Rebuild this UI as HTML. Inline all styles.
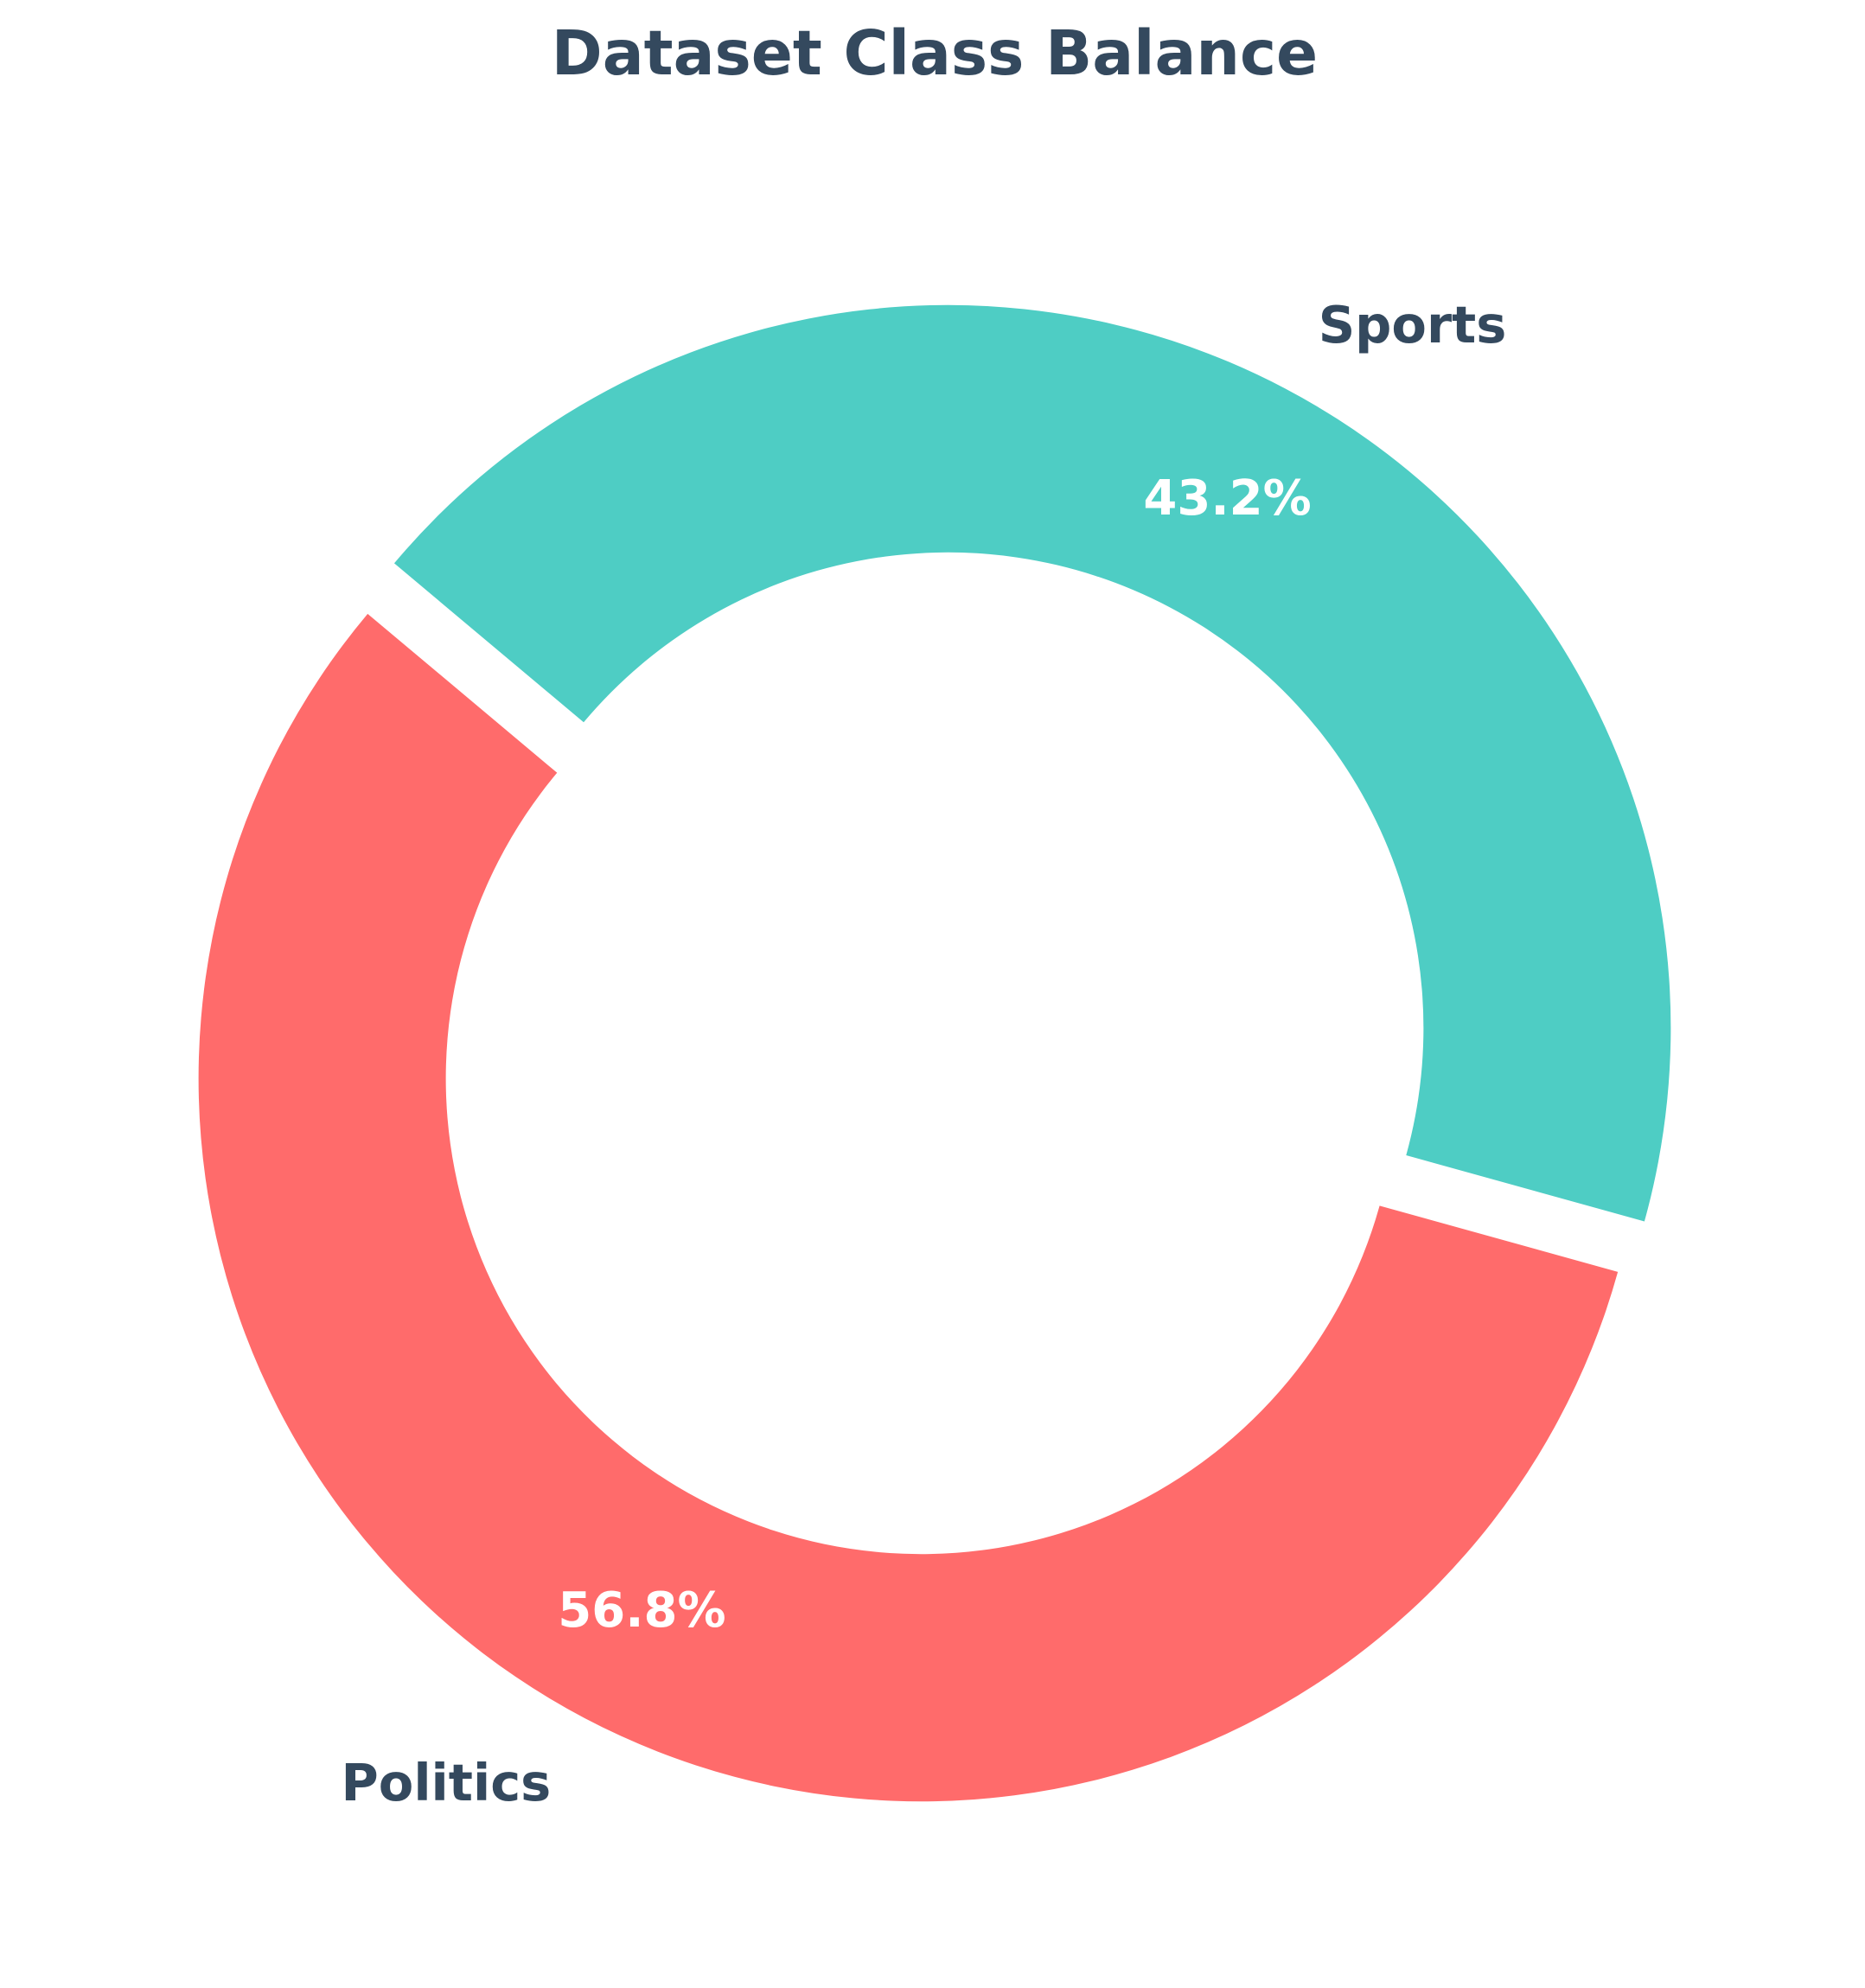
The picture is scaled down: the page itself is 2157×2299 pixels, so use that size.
<!DOCTYPE html>
<html><head><meta charset="utf-8"><style>
html,body{margin:0;padding:0;background:#fff}
svg text{font-family:"DejaVu Sans","Liberation Sans",sans-serif;font-weight:bold}
</style></head><body>
<svg id="chart" width="2157" height="2294" viewBox="0 0 2157 2294" xmlns="http://www.w3.org/2000/svg">
<text x="1081" y="86" text-anchor="middle" font-size="71" fill="#34495E">Dataset Class Balance</text>
<g id="slices"></g>
</svg>
<script>
const categories = ["Politics", "Sports"];
const values = [56.8, 43.2];
const pctLabels = ["56.8%", "43.2%"];
const colors = ["#FF6B6B", "#4ECDC4"];
const cx = 1081, cy = 1218, R = 836, r0 = 550, explode = 33, startAngle = 140;
const g = document.getElementById('slices');
const NS = 'http://www.w3.org/2000/svg';
const total = values.reduce((a,b)=>a+b,0);
function pt(ox, oy, rad, deg){const a=deg*Math.PI/180;return [ox+rad*Math.cos(a), oy-rad*Math.sin(a)];}
let a0 = startAngle;
values.forEach((v,i)=>{
  const span = v/total*360, a1 = a0+span, mid = (a0+a1)/2;
  const [ox, oy] = pt(cx, cy, explode, mid);
  const large = span>180?1:0;
  const p1=pt(ox,oy,R,a0), p2=pt(ox,oy,R,a1), p3=pt(ox,oy,r0,a1), p4=pt(ox,oy,r0,a0);
  const path = document.createElementNS(NS,'path');
  path.setAttribute('d',`M${p1[0]},${p1[1]} A${R},${R} 0 ${large} 0 ${p2[0]},${p2[1]} L${p3[0]},${p3[1]} A${r0},${r0} 0 ${large} 1 ${p4[0]},${p4[1]} Z`);
  path.setAttribute('fill',colors[i]);
  
  
  g.appendChild(path);
  const [lx,ly] = pt(ox,oy,R*1.1,mid);
  const t = document.createElementNS(NS,'text');
  t.setAttribute('x',lx); t.setAttribute('y',ly+21);
  t.setAttribute('text-anchor', lx>=cx ? 'start' : 'end');
  t.setAttribute('font-size','59'); t.setAttribute('fill','#34495E');
  t.textContent = categories[i];
  
  
  g.appendChild(t);
  const [px,py] = pt(ox,oy,R*0.83,mid);
  const p = document.createElementNS(NS,'text');
  p.setAttribute('x',px); p.setAttribute('y',py+20);
  p.setAttribute('text-anchor','middle'); p.setAttribute('font-size','56'); p.setAttribute('fill','#ffffff');
  p.textContent = pctLabels[i];
  
  
  g.appendChild(p);
  a0 = a1;
});
</script>
</body></html>
